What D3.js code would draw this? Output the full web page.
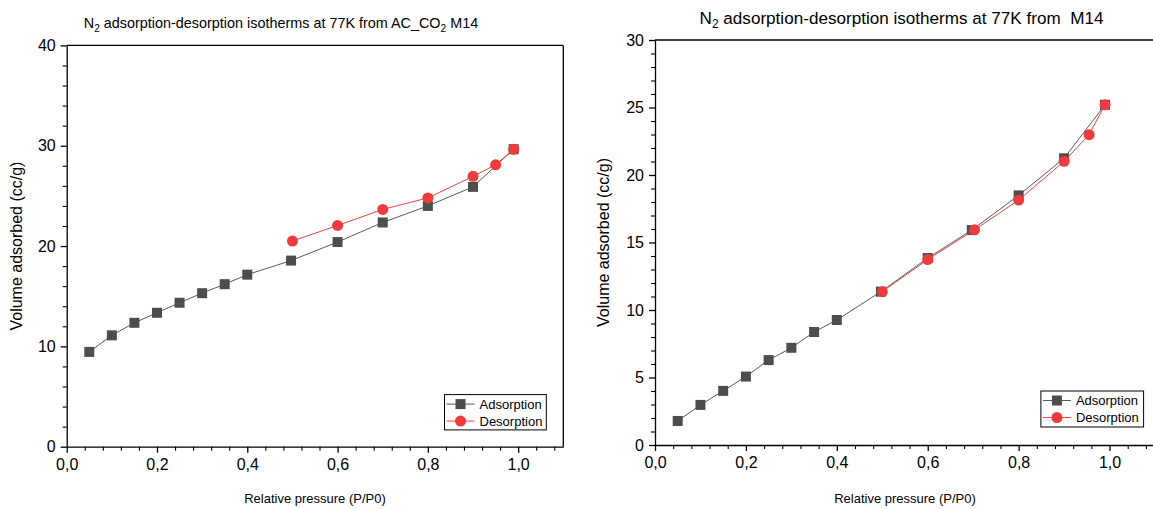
<!DOCTYPE html>
<html>
<head>
<meta charset="utf-8">
<script src="https://cdn.jsdelivr.net/npm/d3@7"></script>
<style>
  html, body { margin: 0; padding: 0; background: #fff; }
  svg { display: block; font-family: "Liberation Sans", Arial, sans-serif; }
  .ttl { white-space: pre; }
</style>
</head>
<body>
<svg id="chart" width="1153" height="509"></svg>
<script>
// ---------- data ----------
const xMajorTicks = [0, 0.2, 0.4, 0.6, 0.8, 1.0];
const leftYTicks = [0, 10, 20, 30, 40];
const rightYTicks = [0, 5, 10, 15, 20, 25, 30];
const seriesNames = ["Adsorption", "Desorption"];

const leftAdsX = [0.05, 0.1, 0.15, 0.2, 0.25, 0.3, 0.35, 0.4, 0.497, 0.6, 0.7, 0.8, 0.9, 0.99];
const leftAdsY = [9.45, 11.1, 12.35, 13.35, 14.35, 15.3, 16.2, 17.15, 18.55, 20.4, 22.35, 24.0, 25.9, 29.65];
const leftDesX = [0.99, 0.95, 0.9, 0.8, 0.7, 0.6, 0.5];
const leftDesY = [29.65, 28.1, 26.95, 24.8, 23.65, 22.05, 20.5];

const rightAdsX = [0.05, 0.1, 0.15, 0.2, 0.25, 0.3, 0.35, 0.4, 0.497, 0.6, 0.697, 0.8, 0.9, 0.99];
const rightAdsY = [1.78, 2.97, 4.01, 5.07, 6.29, 7.2, 8.37, 9.26, 11.36, 13.85, 15.92, 18.49, 21.24, 25.2];
const rightDesX = [0.99, 0.955, 0.9, 0.8, 0.703, 0.6, 0.5];
const rightDesY = [25.2, 22.99, 21.01, 18.14, 15.94, 13.74, 11.36];

// ---------- styling ----------
const adsColor = "#4d4d4d", adsLine = "#5a5a5a";
const desColor = "#f03a3c", desLine = "#f04444";
const svg = d3.select("#chart");
const fmt = d => d3.format(".1f")(d).replace(".", ",");

function panel(cfg) {
  const g = svg.append("g");
  const x = d3.scaleLinear().domain([0, 1.1]).range([cfg.x0, cfg.x1]);
  const y = d3.scaleLinear().domain([0, cfg.ymax]).range([cfg.y0, cfg.y1]);

  // frame top & right
  g.append("line").attr("x1", cfg.x0).attr("x2", cfg.x1).attr("y1", cfg.y1).attr("y2", cfg.y1)
    .attr("stroke", "#000").attr("stroke-width", 1.3);
  g.append("line").attr("x1", cfg.x1).attr("x2", cfg.x1).attr("y1", cfg.y1).attr("y2", cfg.y0)
    .attr("stroke", "#000").attr("stroke-width", 1.3);

  // minor ticks
  const xMinor = d3.range(0, 1.1, 0.04).filter(v => xMajorTicks.every(t => Math.abs(t - v) > 1e-6));
  g.append("g").attr("transform", `translate(0,${cfg.y0})`)
    .call(d3.axisBottom(x).tickValues(xMinor).tickSize(4).tickFormat(""))
    .call(a => a.select(".domain").remove())
    .call(a => a.selectAll("line").attr("stroke-width", 1.1));
  const yMinor = d3.range(0, cfg.ymax + 1e-9, cfg.yMinorStep).filter(v => cfg.yTicks.every(t => Math.abs(t - v) > 1e-6));
  g.append("g").attr("transform", `translate(${cfg.x0},0)`)
    .call(d3.axisLeft(y).tickValues(yMinor).tickSize(4).tickFormat(""))
    .call(a => a.select(".domain").remove())
    .call(a => a.selectAll("line").attr("stroke-width", 1.1));

  // major axes
  const xa = g.append("g").attr("transform", `translate(0,${cfg.y0})`)
    .call(d3.axisBottom(x).tickValues(xMajorTicks).tickSize(6).tickSizeOuter(0).tickPadding(6).tickFormat(fmt));
  xa.selectAll("text").attr("font-size", 16).attr("fill", "#000").attr("font-family", "Liberation Sans, Arial, sans-serif");
  xa.selectAll("line").attr("stroke-width", 1.3);
  xa.select(".domain").attr("stroke-width", 1.3);

  const ya = g.append("g").attr("transform", `translate(${cfg.x0},0)`)
    .call(d3.axisLeft(y).tickValues(cfg.yTicks).tickSize(6).tickSizeOuter(0).tickPadding(5).tickFormat(d3.format("d")));
  ya.selectAll("text").attr("font-size", 16).attr("fill", "#000").attr("font-family", "Liberation Sans, Arial, sans-serif");
  ya.selectAll("line").attr("stroke-width", 1.3);
  ya.select(".domain").attr("stroke-width", 1.3);

  // axis titles
  g.append("text").attr("x", (cfg.x0 + cfg.xTitleRef) / 2).attr("y", 503)
    .attr("text-anchor", "middle").attr("font-size", 13).text("Relative pressure (P/P0)");
  g.append("text").attr("transform", `translate(${cfg.yTitleX},${(cfg.y0 + cfg.y1) / 2}) rotate(-90)`)
    .attr("text-anchor", "middle").attr("font-size", 16).text("Volume adsorbed (cc/g)");

  // title
  const t = g.append("text").attr("class", "ttl").attr("x", cfg.titleX).attr("y", cfg.titleY)
    .attr("text-anchor", "middle").attr("font-size", cfg.titleSize);
  cfg.title(t, cfg.titleSize);

  // series
  const line = d3.line().x(d => x(d[0])).y(d => y(d[1]));
  const ads = cfg.adsX.map((v, i) => [v, cfg.adsY[i]]);
  const des = cfg.desX.map((v, i) => [v, cfg.desY[i]]);

  g.append("path").datum(ads).attr("d", line).attr("fill", "none").attr("stroke", adsLine).attr("stroke-width", 1);
  g.selectAll(".sq").data(ads).join("rect").attr("class", "sq")
    .attr("x", d => x(d[0]) - 5).attr("y", d => y(d[1]) - 5).attr("width", 10).attr("height", 10)
    .attr("fill", adsColor);
  g.append("path").datum(des).attr("d", line).attr("fill", "none").attr("stroke", desLine).attr("stroke-width", 1);
  g.selectAll(".ci").data(des).join("circle").attr("class", "ci")
    .attr("cx", d => x(d[0])).attr("cy", d => y(d[1])).attr("r", 5.5)
    .attr("fill", desColor);

  // legend
  const L = cfg.legend;
  const lg = g.append("g");
  lg.append("rect").attr("x", L.x).attr("y", L.y).attr("width", L.w).attr("height", L.h)
    .attr("fill", "#fff").attr("stroke", "#000").attr("stroke-width", 1);
  const rows = [
    { name: seriesNames[0], color: adsColor, lc: adsLine, shape: "sq" },
    { name: seriesNames[1], color: desColor, lc: desLine, shape: "ci" }
  ];
  rows.forEach((r, i) => {
    const cy = L.y + 9.5 + i * 17;
    lg.append("line").attr("x1", L.x + 2).attr("x2", L.x + 30).attr("y1", cy).attr("y2", cy)
      .attr("stroke", r.lc).attr("stroke-width", 1);
    if (r.shape === "sq") {
      lg.append("rect").attr("x", L.x + 16 - 5).attr("y", cy - 5).attr("width", 10).attr("height", 10).attr("fill", r.color);
    } else {
      lg.append("circle").attr("cx", L.x + 16).attr("cy", cy).attr("r", 5.5).attr("fill", r.color);
    }
    lg.append("text").attr("x", L.x + 35).attr("y", cy + 4.5).attr("font-size", 13).text(r.name);
  });
}

function sub(t, size) {
  t.append("tspan").attr("font-size", size * 0.7).attr("dy", 4).text("2");
}
function titleText(t, size, suffix) {
  t.append("tspan").text("N");
  sub(t, size);
  t.append("tspan").attr("dy", -4).text(suffix);
}

panel({
  x0: 66.7, x1: 563.3, y0: 446.7, y1: 45.4, ymax: 40, yTicks: leftYTicks, yMinorStep: 2,
  xTitleRef: 563.3, yTitleX: 22, titleX: 281, titleY: 28, titleSize: 14.4,
  title: (t, s) => {
    titleText(t, s, " adsorption-desorption isotherms at 77K from AC_CO");
    sub(t, s);
    t.append("tspan").attr("dy", -4).text(" M14");
  },
  adsX: leftAdsX, adsY: leftAdsY, desX: leftDesX, desY: leftDesY,
  legend: { x: 444.5, y: 394.6, w: 101.8, h: 35.3 }
});

panel({
  x0: 655, x1: 1155, y0: 445, y1: 40, ymax: 30, yTicks: rightYTicks, yMinorStep: 1,
  xTitleRef: 1155, yTitleX: 609, titleX: 901.5, titleY: 24, titleSize: 17.1,
  title: (t, s) => titleText(t, s, " adsorption-desorption isotherms at 77K from  M14"),
  adsX: rightAdsX, adsY: rightAdsY, desX: rightDesX, desY: rightDesY,
  legend: { x: 1040.9, y: 391, w: 102.7, h: 36 }
});
</script>
</body>
</html>
